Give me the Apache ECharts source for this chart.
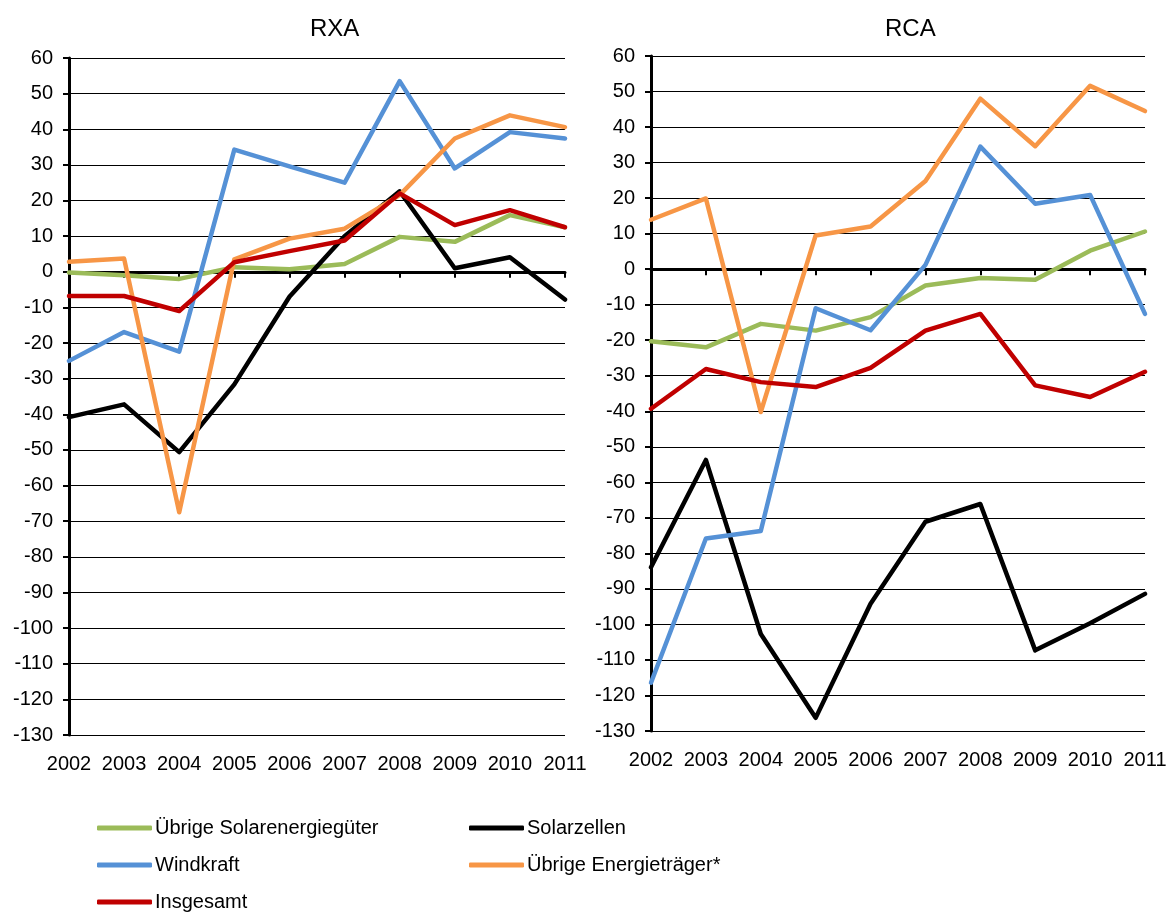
<!DOCTYPE html>
<html>
<head>
<meta charset="utf-8">
<script src="https://cdn.jsdelivr.net/npm/echarts@6/dist/echarts.min.js"></script>
<style>
html,body{margin:0;padding:0;background:#fff;}
#chart{width:1171px;height:916px;}
</style>
</head>
<body>
<div id="chart"></div>
<script>
var years = ['2002','2003','2004','2005','2006','2007','2008','2009','2010','2011'];
var seriesNames = ['Übrige Solarenergiegüter','Solarzellen','Windkraft','Übrige Energieträger*','Insgesamt'];
var seriesColors = ['#9BBB59','#000000','#5591D6','#F79646','#C00000'];
var panelTitles = ['RXA','RCA'];
var yTicks = {min:-130, max:60, interval:10};

// RXA
var rxaSolarUebrige = [-0.2, -1, -2, 1.3, 0.7, 2.2, 9.8, 8.4, 15.9, 12.5];
var rxaSolarzellen  = [-40.8, -37.2, -50.6, -31.6, -7, 10, 22.6, 1, 4.1, -7.8];
var rxaWindkraft    = [-25, -16.9, -22.4, 34.3, 29.6, 25, 53.5, 29, 39.2, 37.4];
var rxaEnergieUebr  = [2.8, 3.7, -67.5, 3.5, 9.3, 12.1, 21.5, 37.4, 43.9, 40.6];
var rxaInsgesamt    = [-6.8, -6.8, -11, 2.7, 5.8, 8.8, 22, 13.1, 17.3, 12.5];

// RCA
var rcaSolarUebrige = [-20.3, -22, -15.4, -17.3, -13.5, -4.6, -2.5, -3, 5.2, 10.6];
var rcaSolarzellen  = [-83.9, -53.7, -102.7, -126.3, -94.2, -71.1, -66.1, -107.3, -99.7, -91.4];
var rcaWindkraft    = [-116.4, -75.8, -73.7, -11, -17.2, 1.2, 34.5, 18.4, 20.9, -12.6];
var rcaEnergieUebr  = [13.9, 19.9, -40.2, 9.5, 12, 24.8, 48, 34.6, 51.6, 44.5];
var rcaInsgesamt    = [-39.3, -28.1, -31.8, -33.2, -27.8, -17.3, -12.6, -32.7, -36, -28.9];

var panels = [
  [rxaSolarUebrige, rxaSolarzellen, rxaWindkraft, rxaEnergieUebr, rxaInsgesamt],
  [rcaSolarUebrige, rcaSolarzellen, rcaWindkraft, rcaEnergieUebr, rcaInsgesamt]
];

var FONT = 'Liberation Sans, Arial, sans-serif';
var AXFS = 20;

var grids = [
  {left:69, top:58, width:496, height:677},
  {left:651, top:56, width:494, height:675}
];

var xAxes = [], yAxes = [], series = [];
grids.forEach(function(g, gi){
  xAxes.push({
    type:'category', data:years, gridIndex:gi, boundaryGap:false, position:'bottom',
    axisLine:{show:false, onZero:false}, axisTick:{show:false},
    axisLabel:{fontSize:AXFS, color:'#000', fontFamily:FONT, margin:19, interval:0, hideOverlap:false},
    splitLine:{show:false}
  });
  xAxes.push({
    type:'category', data:years, gridIndex:gi, boundaryGap:false, position:'top',
    axisLine:{show:true, onZero:true, lineStyle:{color:'#000', width:3}},
    axisTick:{show:true, inside:true, length:6, interval:0, lineStyle:{color:'#000', width:2}},
    axisLabel:{show:false}, splitLine:{show:false}
  });
  yAxes.push({
    type:'value', gridIndex:gi, min:yTicks.min, max:yTicks.max, interval:yTicks.interval,
    axisLine:{show:true, onZero:false, lineStyle:{color:'#000', width:3}},
    axisTick:{show:true, length:6, lineStyle:{color:'#000', width:2}},
    axisLabel:{fontSize:AXFS, color:'#000', fontFamily:FONT, margin:16},
    splitLine:{show:true, lineStyle:{color:'#000', width:1}}
  });
  panels[gi].forEach(function(vals, si){
    series.push({
      name:seriesNames[si], type:'line', xAxisIndex:gi*2, yAxisIndex:gi,
      data:vals, symbol:'none', smooth:false, color:seriesColors[si],
      lineStyle:{width:4.5, color:seriesColors[si], cap:'round', join:'round'},
      emphasis:{disabled:true}, animation:false, z:2+si
    });
  });
});

var legendCommon = {
  orient:'vertical', icon:'roundRect', itemWidth:55, itemHeight:5, itemGap:17, padding:0,
  height:100,
  textStyle:{fontSize:20, color:'#000', fontFamily:FONT, lineHeight:20, padding:[0,0,0,-2]}, selectedMode:false
};

var option = {
  backgroundColor:'#fff',
  animation:false,
  title:[
    {text:panelTitles[0], left:305, top:12, textStyle:{fontSize:24, fontWeight:'normal', color:'#000', fontFamily:FONT}},
    {text:panelTitles[1], left:880, top:12, textStyle:{fontSize:24, fontWeight:'normal', color:'#000', fontFamily:FONT}}
  ],
  legend:[
    Object.assign({left:97, top:818, data:[seriesNames[0], seriesNames[2], seriesNames[4]]}, legendCommon),
    Object.assign({left:469, top:818, data:[seriesNames[1], seriesNames[3]]}, legendCommon)
  ],
  grid:grids,
  xAxis:xAxes,
  yAxis:yAxes,
  series:series
};

var chart = echarts.init(document.getElementById('chart'), null, {renderer:'canvas'});
chart.setOption(option);
</script>
</body>
</html>
